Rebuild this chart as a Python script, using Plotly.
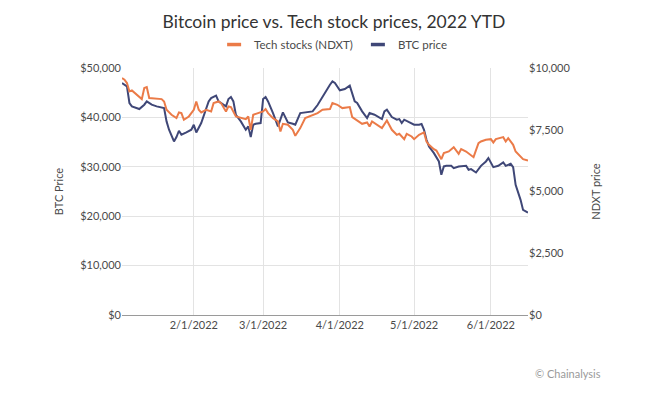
import plotly.graph_objects as go

# ---------------- data ----------------
btc_dates = ["2022-01-03","2022-01-05","2022-01-06","2022-01-07","2022-01-10","2022-01-12","2022-01-13","2022-01-15",
             "2022-01-17","2022-01-20","2022-01-21","2022-01-22","2022-01-24","2022-01-25","2022-01-26","2022-01-27",
             "2022-01-29","2022-01-31","2022-02-01","2022-02-02","2022-02-04","2022-02-06","2022-02-07","2022-02-08",
             "2022-02-10","2022-02-11","2022-02-12","2022-02-14","2022-02-15","2022-02-16","2022-02-17","2022-02-18",
             "2022-02-20","2022-02-22","2022-02-23","2022-02-24","2022-02-25","2022-02-26","2022-02-28","2022-03-01",
             "2022-03-02","2022-03-03","2022-03-05","2022-03-07","2022-03-09","2022-03-11","2022-03-13","2022-03-14",
             "2022-03-16","2022-03-19","2022-03-21","2022-03-23","2022-03-25","2022-03-26","2022-03-28","2022-03-29",
             "2022-03-30","2022-04-01","2022-04-03","2022-04-05","2022-04-07","2022-04-08","2022-04-10","2022-04-12",
             "2022-04-13","2022-04-15","2022-04-18","2022-04-19","2022-04-20","2022-04-22","2022-04-24","2022-04-25",
             "2022-04-26","2022-04-27","2022-04-29","2022-05-01","2022-05-03","2022-05-04","2022-05-05","2022-05-06",
             "2022-05-07","2022-05-09","2022-05-11","2022-05-12","2022-05-13","2022-05-14","2022-05-16","2022-05-17",
             "2022-05-19","2022-05-22","2022-05-23","2022-05-24","2022-05-26","2022-05-28","2022-05-30","2022-05-31",
             "2022-06-02","2022-06-04","2022-06-06","2022-06-07","2022-06-09","2022-06-10","2022-06-11","2022-06-13",
             "2022-06-14","2022-06-16"]
btc_price = [46960,46290,42910,42230,41690,42570,43240,42570,
             42230,41890,39190,37500,35140,36010,37300,36490,
             36960,37500,38510,36960,38850,41560,43240,43920,
             44390,43240,42910,42230,43720,44120,43240,40540,
             39190,37500,38180,36010,38510,38720,38850,43720,
             44120,43240,40880,38180,41020,38990,38720,38510,
             40880,41020,41220,42500,44260,44930,46620,47300,
             46960,45480,45750,46420,43240,42910,41220,39870,
             40880,40540,39660,41220,41560,40070,39530,39660,
             38850,39530,38990,38510,38510,38650,37500,35470,
             34120,32770,31080,28400,30070,30200,30200,29730,
             30070,30200,29390,29530,28850,30200,31080,31760,
             29930,30200,30880,30200,30610,29930,26350,23310,
             21280,20740]

ndxt_dates = ["2022-01-03","2022-01-04","2022-01-05","2022-01-06","2022-01-07","2022-01-10","2022-01-11","2022-01-12",
              "2022-01-13","2022-01-14","2022-01-17","2022-01-19","2022-01-20","2022-01-21","2022-01-23","2022-01-25",
              "2022-01-26","2022-01-27","2022-01-28","2022-01-30","2022-02-01","2022-02-02","2022-02-03","2022-02-04",
              "2022-02-06","2022-02-08","2022-02-09","2022-02-11","2022-02-12","2022-02-14","2022-02-15","2022-02-16",
              "2022-02-18","2022-02-20","2022-02-22","2022-02-23","2022-02-24","2022-02-25","2022-02-27","2022-03-01",
              "2022-03-02","2022-03-03","2022-03-05","2022-03-07","2022-03-08","2022-03-09","2022-03-11","2022-03-13",
              "2022-03-14","2022-03-16","2022-03-18","2022-03-21","2022-03-23","2022-03-25","2022-03-28","2022-03-29",
              "2022-03-31","2022-04-02","2022-04-05","2022-04-06","2022-04-08","2022-04-10","2022-04-12","2022-04-13",
              "2022-04-14","2022-04-16","2022-04-18","2022-04-20","2022-04-22","2022-04-24","2022-04-25","2022-04-27",
              "2022-04-28","2022-04-30","2022-05-01","2022-05-03","2022-05-05","2022-05-06","2022-05-07","2022-05-09",
              "2022-05-10","2022-05-12","2022-05-13","2022-05-15","2022-05-17","2022-05-19","2022-05-20","2022-05-22",
              "2022-05-24","2022-05-25","2022-05-27","2022-05-28","2022-05-30","2022-06-01","2022-06-02","2022-06-03",
              "2022-06-06","2022-06-07","2022-06-08","2022-06-10","2022-06-11","2022-06-13","2022-06-14","2022-06-16"]
ndxt_price = [9592,9525,9390,9052,9092,8822,8741,9187,
              9227,8782,8741,8741,8646,8309,8106,7971,
              8200,8173,7903,8038,8309,8646,8309,8200,
              8309,8241,8579,8646,8579,8241,8444,8417,
              8038,7971,7930,8038,7498,8106,8173,8241,
              8336,8173,7971,7836,7431,7741,7701,7498,
              7255,7566,7971,8106,8173,8309,8336,8579,
              8511,8376,8417,8011,7876,7741,7795,7633,
              7836,7701,7566,7876,7498,7295,7336,7120,
              7336,7228,7120,7295,7390,7025,6890,6715,
              6660,6309,6552,6620,6795,6525,6715,6620,
              6485,6390,6958,7025,7093,7120,6985,7120,
              7201,7025,7160,6890,6620,6417,6309,6255]

x_tick_vals = ["2022-02-01", "2022-03-01", "2022-04-01", "2022-05-01", "2022-06-01"]
x_tick_text = ["2/1/2022", "3/1/2022", "4/1/2022", "5/1/2022", "6/1/2022"]
btc_ticks = [0, 10000, 20000, 30000, 40000, 50000]
btc_tick_text = ["$0", "$10,000", "$20,000", "$30,000", "$40,000", "$50,000"]
ndxt_ticks = [0, 2500, 5000, 7500, 10000]
ndxt_tick_text = ["$0", "$2,500", "$5,000", "$7,500", "$10,000"]

ORANGE = "#EB7B48"
NAVY = "#3F4777"
FONT = "Lato"
TXT = "#4a4a4a"

fig = go.Figure()
fig.add_trace(go.Scatter(x=ndxt_dates, y=ndxt_price, yaxis="y2", mode="lines",
                         line=dict(color=ORANGE, width=2), showlegend=False))
fig.add_trace(go.Scatter(x=btc_dates, y=btc_price, mode="lines",
                         line=dict(color=NAVY, width=2), showlegend=False))
# legend entries (short thick dash like the reference)
fig.add_trace(go.Scatter(x=[None], y=[None], mode="markers", name="Tech stocks (NDXT)",
                         marker=dict(symbol="line-ew-open", size=10, color=ORANGE,
                                     line=dict(color=ORANGE, width=3.5))))
fig.add_trace(go.Scatter(x=[None], y=[None], mode="markers", name="BTC price",
                         marker=dict(symbol="line-ew-open", size=10, color=NAVY,
                                     line=dict(color=NAVY, width=3.5))))

fig.update_layout(
    width=656, height=398,
    margin=dict(l=114, r=136, t=60, b=91),
    paper_bgcolor="white", plot_bgcolor="white",
    font=dict(family=FONT, size=11, color=TXT),
    title=dict(text="Bitcoin price vs. Tech stock prices, 2022 YTD", x=0.497, xanchor="center",
               y=0.966, yanchor="middle", font=dict(family=FONT, size=17.5, color="#333333")),
    legend=dict(orientation="h", x=0.52, xanchor="center", y=1.095, yanchor="middle",
                font=dict(family=FONT, size=11.5, color=TXT), itemwidth=30, tracegroupgap=0,
                bgcolor="rgba(0,0,0,0)"),
    xaxis=dict(type="date", range=["2022-01-03", "2022-06-16"], tickvals=x_tick_vals, ticktext=x_tick_text,
               showgrid=True, gridcolor="#e3e3e3", gridwidth=1, showline=True, linecolor="#9a9a9a",
               linewidth=1, ticks="", tickfont=dict(size=11, color=TXT), zeroline=False),
    yaxis=dict(range=[0, 50000], tickvals=btc_ticks, ticktext=btc_tick_text, showgrid=True,
               gridcolor="#e3e3e3", gridwidth=1, zeroline=False, ticks="", ticklen=0,
               title=dict(text="BTC Price", standoff=14, font=dict(size=11, color=TXT)),
               tickfont=dict(size=11, color=TXT)),
    yaxis2=dict(range=[0, 10000], tickvals=ndxt_ticks, ticktext=ndxt_tick_text, overlaying="y",
                side="right", showgrid=False, zeroline=False, ticks="",
                title=dict(text="NDXT price", standoff=22, font=dict(size=11, color=TXT)),
                tickfont=dict(size=11, color=TXT)),
    annotations=[dict(text="© Chainalysis", xref="paper", yref="paper", x=1.185, y=-0.235,
                      xanchor="right", yanchor="middle", showarrow=False,
                      font=dict(family=FONT, size=11, color="#9a9a9a"))],
)

fig.write_html("out.html")
